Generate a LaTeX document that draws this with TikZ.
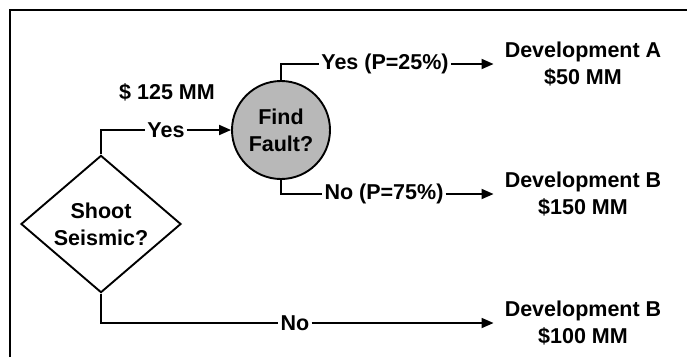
\documentclass[tikz,border=0pt]{standalone}
\usepackage{fontspec}
\setmainfont{Liberation Sans}
\usetikzlibrary{shapes.geometric,arrows.meta}
\begin{document}
\begin{tikzpicture}[x=1pt,y=-1pt,
  txt/.style={font=\fontsize{21.5}{27}\selectfont\bfseries, align=center, inner sep=0pt},
  lbl/.style={font=\fontsize{21.5}{27}\selectfont\bfseries, inner sep=2pt},
  wire/.style={line width=1.8pt},
  arr/.style={line width=1.8pt, -{Triangle[length=12pt,width=10pt]}, shorten >=11pt},
]
\useasboundingbox (0,0) rectangle (687,357);
\draw[line width=1.5pt] (10,357) -- (10,10) -- (687,10);

% decision nodes
\node[draw, line width=1.9pt, diamond, fill=white, minimum width=160pt, minimum height=116pt, inner sep=0pt, txt] (d) at (101,224) {Shoot\\Seismic?};
\node[draw, line width=1.9pt, circle, fill=black!28, minimum size=98pt, inner sep=0pt, txt] (f) at (281,130) {Find\\Fault?};

% cost label
\node[txt] (cost) at (167,92) {\$ 125 MM};

% outcomes
\node[txt] (da) at (583,64) {Development A\\\$50 MM};
\node[txt] (db1) at (583,194) {Development B\\\$150 MM};
\node[txt] (db2) at (583,323) {Development B\\\$100 MM};

% branch labels
\node[lbl] (yes1) at (166,130) {Yes};
\node[lbl] (no1) at (295,323) {No};
\node[lbl] (yes2) at (385,64) {Yes (P=25\%)};
\node[lbl] (no2) at (384,194) {No (P=75\%)};

% connectors
\draw[wire] (d.north) |- (yes1.west);
\draw[line width=1.8pt, -{Triangle[length=12pt,width=10pt]}] (yes1.east) -- (f.west);
\draw[wire] (d.south) |- (no1.west);
\draw[arr] (no1.east) -- (db2.west);
\draw[wire] (f.north) |- (yes2.west);
\draw[arr] (yes2.east) -- (da.west);
\draw[wire] (f.south) |- (no2.west);
\draw[arr] (no2.east) -- (db1.west);
\end{tikzpicture}
\end{document}
